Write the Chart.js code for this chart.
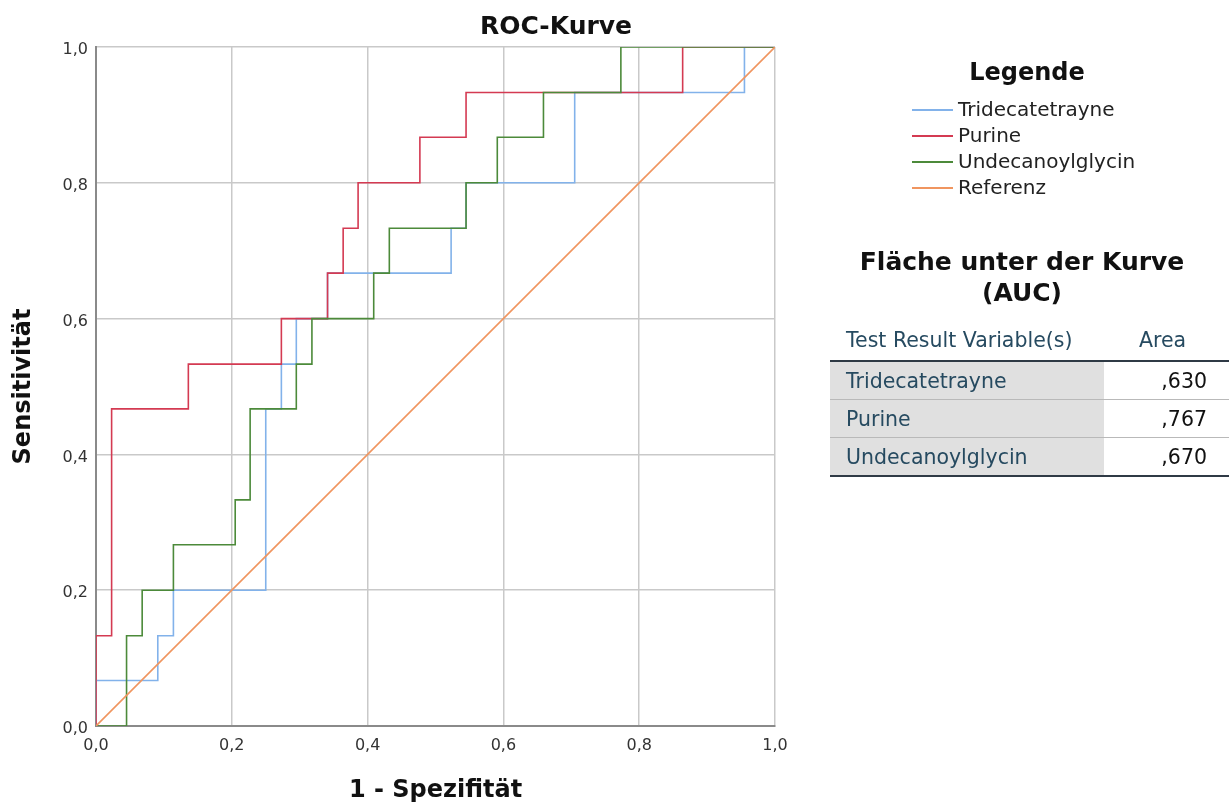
<!DOCTYPE html>
<html>
<head>
<meta charset="utf-8">
<script src="https://cdn.jsdelivr.net/npm/chart.js@4.4.1/dist/chart.umd.min.js"></script>
<style>
  html, body { margin: 0; padding: 0; background: #fff; }
  #wrap { position: relative; width: 1229px; height: 805px; overflow: hidden; }
  #roc { position: absolute; left: 0; top: 0; }
  .bold { font-family: 'DejaVu Sans', sans-serif; font-weight: bold; color: #111; }
  #legendTitle { position: absolute; left: 927px; width: 200px; top: 57px; line-height: 30px; text-align: center; font-size: 24px; }
  #legend { position: absolute; left: 912px; top: 96px; font-family: 'DejaVu Sans', sans-serif; font-size: 20px; color: #222; }
  #legend .item { height: 26px; line-height: 26px; white-space: nowrap; }
  #legend .sym { display: inline-block; width: 41px; height: 0; border-top: 2px solid; vertical-align: middle; margin-right: 5px; position: relative; top: -1px; }
  #aucTitle { position: absolute; left: 822px; width: 400px; top: 246px; text-align: center; font-size: 25px; line-height: 31px; }
  #auc { position: absolute; left: 830px; top: 322px; width: 399px; border-collapse: collapse; font-family: 'DejaVu Sans', sans-serif; font-size: 20.5px; }
  #auc th { height: 36px; font-weight: normal; color: #264a60; border-bottom: 2px solid #2f3a45; padding: 0 0 2px 0; vertical-align: middle; }
  #auc th.c1 { text-align: left; padding-left: 16px; }
  #auc th.c2 { text-align: center; padding-right: 8px; }
  #auc td { height: 37px; padding: 0; border-bottom: 1px solid #b9b9b9; vertical-align: middle; }
  #auc tr:last-child td { border-bottom: 2px solid #2f3a45; }
  #auc td.c1 { width: 258px; padding-left: 16px; background: #e0e0e0; color: #264a60; }
  #auc td.c2 { text-align: right; padding-right: 22px; color: #111; }
</style>
</head>
<body>
<div id="wrap">
  <canvas id="roc" width="1229" height="805"></canvas>
  <div id="legendTitle" class="bold">Legende</div>
  <div id="legend"></div>
  <div id="aucTitle" class="bold">Fläche unter der Kurve<br>(AUC)</div>
  <table id="auc">
    <thead><tr><th class="c1">Test Result Variable(s)</th><th class="c2">Area</th></tr></thead>
    <tbody></tbody>
  </table>
</div>
<script>
// corner points of the step curves (1 - Spezifität, Sensitivität)
const triFpr = [0, 0, 0.091, 0.091, 0.114, 0.114, 0.25, 0.25, 0.273, 0.273, 0.295, 0.295, 0.341, 0.341, 0.523, 0.523, 0.545, 0.545, 0.705, 0.705, 0.955, 0.955, 1];
const triTpr = [0, 0.067, 0.067, 0.133, 0.133, 0.2, 0.2, 0.467, 0.467, 0.533, 0.533, 0.6, 0.6, 0.667, 0.667, 0.733, 0.733, 0.8, 0.8, 0.933, 0.933, 1, 1];

const purFpr = [0, 0, 0.023, 0.023, 0.136, 0.136, 0.273, 0.273, 0.341, 0.341, 0.364, 0.364, 0.386, 0.386, 0.477, 0.477, 0.545, 0.545, 0.864, 0.864, 1];
const purTpr = [0, 0.133, 0.133, 0.467, 0.467, 0.533, 0.533, 0.6, 0.6, 0.667, 0.667, 0.733, 0.733, 0.8, 0.8, 0.867, 0.867, 0.933, 0.933, 1, 1];

const undFpr = [0, 0.045, 0.045, 0.068, 0.068, 0.114, 0.114, 0.205, 0.205, 0.227, 0.227, 0.295, 0.295, 0.318, 0.318, 0.409, 0.409, 0.432, 0.432, 0.545, 0.545, 0.591, 0.591, 0.659, 0.659, 0.773, 0.773, 1];
const undTpr = [0, 0, 0.133, 0.133, 0.2, 0.2, 0.267, 0.267, 0.333, 0.333, 0.467, 0.467, 0.533, 0.533, 0.6, 0.6, 0.667, 0.667, 0.733, 0.733, 0.8, 0.8, 0.867, 0.867, 0.933, 0.933, 1, 1];

const refFpr = [0, 1];
const refTpr = [0, 1];

const seriesNames = ['Tridecatetrayne', 'Purine', 'Undecanoylglycin', 'Referenz'];
const aucNames = ['Tridecatetrayne', 'Purine', 'Undecanoylglycin'];
const aucValues = [0.630, 0.767, 0.670];

const colors = ['#82b2ea', '#d43a52', '#4c8a3a', '#f0955f'];

const toPoints = (xs, ys) => xs.map((x, i) => ({ x, y: ys[i] }));
const comma = v => v.toFixed(1).replace('.', ',');

const titlePlugin = {
  id: 'rocTitle',
  afterDraw(chart) {
    const ctx = chart.ctx;
    ctx.save();
    ctx.font = 'bold 25px "DejaVu Sans", sans-serif';
    ctx.fillStyle = '#111';
    ctx.textAlign = 'center';
    ctx.textBaseline = 'middle';
    ctx.fillText('ROC-Kurve', 556, 27);
    ctx.restore();
  }
};

const lineSet = (i, xs, ys, order) => ({
  label: seriesNames[i],
  data: toPoints(xs, ys),
  borderColor: colors[i],
  backgroundColor: colors[i],
  borderWidth: 1.6,
  pointRadius: 0,
  tension: 0,
  fill: false,
  order
});

const tickFont = { family: '"DejaVu Sans", sans-serif', size: 16 };
const axisTitleFont = { family: '"DejaVu Sans", sans-serif', size: 24, weight: 'bold' };

const chart = new Chart(document.getElementById('roc'), {
  type: 'line',
  data: {
    datasets: [
      lineSet(0, triFpr, triTpr, 3),
      lineSet(1, purFpr, purTpr, 2),
      lineSet(2, undFpr, undTpr, 1),
      lineSet(3, refFpr, refTpr, 0),
    ],
  },
  options: {
    responsive: false,
    animation: false,
    layout: { padding: { left: 8, right: 454, top: 47, bottom: 0 } },
    plugins: { legend: { display: false }, tooltip: { enabled: false } },
    scales: {
      x: {
        type: 'linear',
        min: 0,
        max: 1,
        ticks: { stepSize: 0.2, padding: 10, color: '#333', font: tickFont, callback: v => comma(v), maxRotation: 0 },
        grid: { color: '#c9c9c9', lineWidth: 1.5, drawTicks: false },
        border: { color: '#8a8a8a', width: 2 },
        title: { display: true, text: '1 - Spezifität', color: '#111', font: axisTitleFont, padding: { top: 0, bottom: 0 } },
        afterFit: s => { s.height = 79; s.paddingLeft = 0; s.paddingRight = 0; },
      },
      y: {
        type: 'linear',
        min: 0,
        max: 1,
        ticks: { stepSize: 0.2, padding: 8, color: '#333', font: tickFont, callback: v => comma(v), labelOffset: 3 },
        grid: { color: '#c9c9c9', lineWidth: 1.5, drawTicks: false },
        border: { color: '#8a8a8a', width: 2 },
        title: { display: true, text: 'Sensitivität', color: '#111', font: axisTitleFont, padding: { top: 1, bottom: 0 } },
        afterFit: s => { s.width = 88; s.paddingTop = 0; s.paddingBottom = 0; },
      },
    },
  },
  plugins: [titlePlugin],
});

// HTML legend built from the chart datasets
const legendBox = document.getElementById('legend');
chart.data.datasets.forEach(ds => {
  const row = document.createElement('div');
  row.className = 'item';
  const sym = document.createElement('span');
  sym.className = 'sym';
  sym.style.borderTopColor = ds.borderColor;
  row.appendChild(sym);
  row.appendChild(document.createTextNode(ds.label));
  legendBox.appendChild(row);
});

// AUC table
const tbody = document.querySelector('#auc tbody');
aucNames.forEach((name, i) => {
  const tr = document.createElement('tr');
  tr.innerHTML = '<td class="c1"></td><td class="c2"></td>';
  tr.children[0].textContent = name;
  tr.children[1].textContent = aucValues[i].toFixed(3).replace('0.', ',');
  tbody.appendChild(tr);
});
</script>
</body>
</html>
